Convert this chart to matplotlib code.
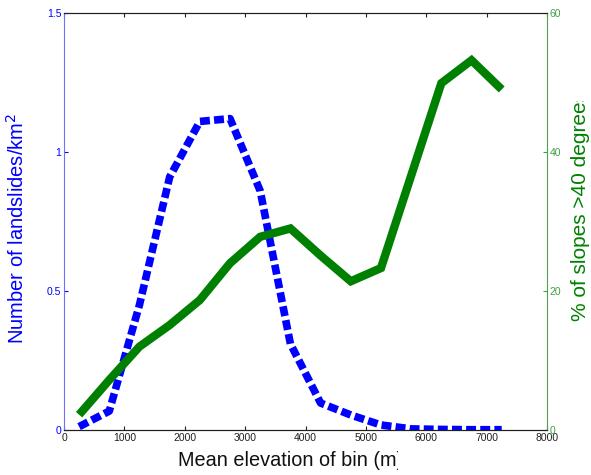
import matplotlib
matplotlib.use('Agg')
import matplotlib.pyplot as plt
from matplotlib.transforms import Bbox

plt.rcParams['font.family'] = ['Liberation Sans', 'DejaVu Sans']

# bin centres (m)
elev = [250, 750, 1250, 1750, 2250, 2750, 3250, 3750, 4250, 4750, 5250, 5750, 6250, 6750, 7250]
# landslides per km2 in each bin
landslides = [0.012, 0.068, 0.45, 0.91, 1.11, 1.12, 0.86, 0.31, 0.097, 0.054, 0.018, 0.004, 0.002, 0.001, 0.001]
# percentage of slopes steeper than 40 degrees
steep = [2.2, 7.2, 12.0, 15.1, 18.7, 24.0, 27.8, 29.0, 25.1, 21.4, 23.3, 36.6, 49.9, 53.2, 49.0]

blue = '#0000ff'
green = '#008000'

fig = plt.figure(figsize=(5.91, 4.75), dpi=100)
ax1 = fig.add_axes([64 / 591, 45 / 475, 483 / 591, 417 / 475])
ax2 = ax1.twinx()

ax1.plot(elev, landslides, color=blue, lw=5.5, linestyle=(0, (1.3, 0.55)), zorder=3)
ax2.plot(elev, steep, color=green, lw=6, solid_capstyle='butt', solid_joinstyle='miter')

ax1.set_xlim(0, 8000)
ax1.set_ylim(0, 1.5)
ax2.set_ylim(0, 60)
ax1.set_xticks(range(0, 8001, 1000))
ax1.set_yticks([0, 0.5, 1, 1.5])
ax1.set_yticklabels(['0', '0.5', '1', '1.5'])
ax2.set_yticks([0, 20, 40, 60])

ax1.tick_params(axis='x', direction='in', length=3, labelsize=7.5, colors='#202020', top=True, pad=2)
ax1.tick_params(axis='y', direction='in', length=3, labelsize=7.5, colors=blue, right=False, pad=2)
ax2.tick_params(axis='y', direction='in', length=3, labelsize=7.5, colors='#40a040', pad=2)

ax1.spines['left'].set_color('#7070ff')
ax1.spines['right'].set_visible(False)
ax2.spines['left'].set_visible(False)
ax2.spines['right'].set_color('#50a050')
for ax in (ax1, ax2):
    ax.spines['top'].set_color('#202020')
    ax.spines['bottom'].set_color('#202020')

ax1.set_ylabel('Number of landslides/km$^2$', color=blue, fontsize=14.5)
ax1.yaxis.set_label_coords(-0.0745, 0.484)
yl2 = ax2.set_ylabel('% of slopes >40 degrees', color=green, fontsize=15)
ax2.yaxis.set_label_coords(1.0497, 0.538)
xl = ax1.set_xlabel('Mean elevation of bin (m)', fontsize=14.3, color='#101010')
ax1.xaxis.set_label_coords((291 - 64) / 483, -0.05)

# both labels get cut off at their far end
xl.set_clip_box(Bbox.from_extents(0, 0, 398, 475))
xl.set_clip_on(True)
yl2.set_clip_box(Bbox.from_extents(0, 0, 591, 374))
yl2.set_clip_on(True)

fig.savefig('out.png', dpi=100)
